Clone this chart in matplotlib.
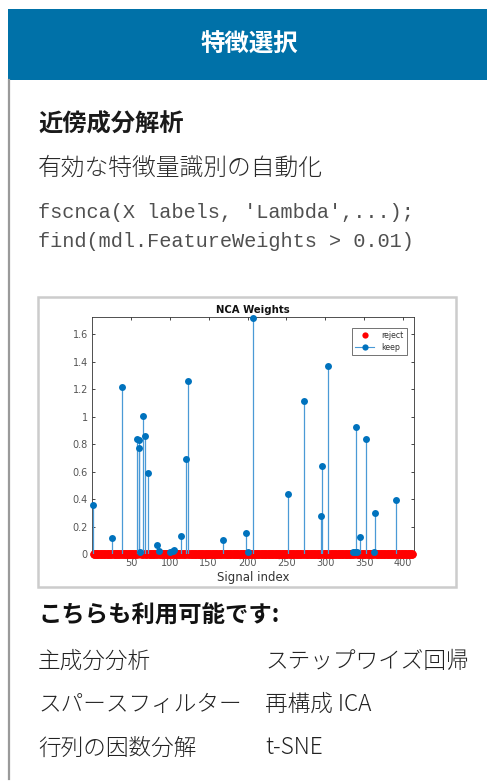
import matplotlib
matplotlib.use("Agg")
import matplotlib.pyplot as plt
from matplotlib.patches import Rectangle
from matplotlib.lines import Line2D
import numpy as np

# ---------------- data ----------------
header_title = "特徴選択"
section_title = "近傍成分解析"
section_sub = "有効な特徴量識別の自動化"
code_lines = ["fscnca(X labels, 'Lambda',...);",
              "find(mdl.FeatureWeights > 0.01)"]
also_title = "こちらも利用可能です:"
also_left = ["主成分分析", "スパースフィルター", "行列の因数分解"]
also_right = ["ステップワイズ回帰", "再構成 ICA", "t-SNE"]

chart_title = "NCA Weights"
x_label = "Signal index"
n_signals = 412
keep_idx = [1, 26, 38, 58, 60, 61, 62, 65, 68, 72, 83, 86, 100, 104, 106,
            115, 121, 124, 168, 198, 201, 207, 252, 272, 295, 296, 304,
            335, 338, 339, 341, 345, 352, 363, 364, 391]
keep_w = [0.354, 0.116, 1.212, 0.839, 0.827, 0.768, 0.012, 1.001, 0.858,
          0.587, 0.068, 0.022, 0.012, 0.024, 0.029, 0.133, 0.693, 1.260,
          0.104, 0.155, 0.012, 1.721, 0.434, 1.115, 0.279, 0.640, 1.367,
          0.015, 0.015, 0.928, 0.015, 0.126, 0.834, 0.012, 0.300, 0.390]
reject_idx = [i for i in range(1, n_signals + 1) if i not in keep_idx]
reject_w = [0.0] * len(reject_idx)
x_ticks = [50, 100, 150, 200, 250, 300, 350, 400]
y_ticks = [0, 0.2, 0.4, 0.6, 0.8, 1.0, 1.2, 1.4, 1.6]
y_tick_labels = ["0", "0.2", "0.4", "0.6", "0.8", "1", "1.2", "1.4", "1.6"]
legend_labels = ["reject", "keep"]

# ---------------- figure ----------------
W, H = 487, 781
fig = plt.figure(figsize=(W / 100, H / 100), dpi=100)
fig.patch.set_facecolor("white")

def fx(x):
    return x / W

def fy(y):
    return 1 - y / H

jp = ["Noto Sans CJK JP", "DejaVu Sans"]

# header band
fig.patches.append(Rectangle((fx(8), fy(80)), fx(487 - 8), (80 - 9) / H,
                             transform=fig.transFigure, facecolor="#0071a8",
                             edgecolor="none", zorder=0))
# left grey border
fig.lines.append(Line2D([fx(8.5), fx(8.5)], [fy(80), fy(779)],
                        transform=fig.transFigure, color="#9a9a9a", lw=1.6))
fig.text(fx(249), fy(45), header_title, color="white", fontsize=17.6,
         fontweight="bold", family=jp, ha="center", va="center")

fig.text(fx(38), fy(125), section_title, color="#1a1a1a", fontsize=17.5,
         fontweight="bold", family=jp, ha="left", va="center")
fig.text(fx(38), fy(168), section_sub, color="#2a2a2a", fontsize=17.1,
         fontweight="light", family=jp, ha="left", va="center")
for i, line in enumerate(code_lines):
    fig.text(fx(38), fy(213 + 28.5 * i), line, color="#505050", fontsize=14.6,
             family=["Liberation Mono", "DejaVu Sans Mono"], ha="left",
             va="center")

# chart frame
fig.patches.append(Rectangle((fx(37.5), fy(587)), fx(456 - 37.5),
                             (587 - 296.5) / H, transform=fig.transFigure,
                             facecolor="white", edgecolor="#cccccc", lw=1.8,
                             zorder=0))

# bottom list
fig.text(fx(38), fy(616), also_title, color="#111111", fontsize=16.8,
         fontweight="bold", family=jp, ha="left", va="center")
for i, (l, r) in enumerate(zip(also_left, also_right)):
    yy = 661 + 43.5 * i
    fig.text(fx(38), fy(yy), l, color="#222222", fontsize=16.3, family=jp,
             fontweight="light", ha="left", va="center")
    fig.text(fx(265), fy(yy), r, color="#222222", fontsize=16.3, family=jp,
             fontweight="light", ha="left", va="center")

# ---------------- chart ----------------
ax = fig.add_axes([fx(92), fy(554), fx(414 - 92), (554 - 317) / H])
ax.set_zorder(5)
ax.set_facecolor("white")

ax.plot(reject_idx, reject_w, "o", color="#ff0000", markersize=6,
        markeredgewidth=0, label=legend_labels[0], clip_on=False, zorder=3)
ax.vlines(keep_idx, 0, keep_w, color="#4a9ad6", lw=0.9, zorder=3.5)
ax.plot(keep_idx, keep_w, "o", color="#0072BD", markersize=5,
        markeredgewidth=0, zorder=4, clip_on=False)

ax.set_xlim(0, 414)
ax.set_ylim(0, 1.725)
ax.set_xticks(x_ticks)
ax.set_yticks(y_ticks)
ax.set_yticklabels(y_tick_labels)
ax.tick_params(direction="in", length=2.2, width=0.6, colors="#262626",
               labelcolor="#555555", labelsize=7, top=True, right=True,
               pad=3)
for s in ax.spines.values():
    s.set_color("#333333")
    s.set_linewidth(0.6)
ax.set_title(chart_title, fontsize=7.3, fontweight="bold", color="#111111",
             pad=3)
ax.set_xlabel(x_label, fontsize=8.5, color="#333333", labelpad=2)

handles = [Line2D([], [], ls="none", marker="o", color="#ff0000",
                  markersize=4.5, markeredgewidth=0),
           Line2D([], [], ls="-", lw=0.8, color="#4a9ad6", marker="o",
                  markerfacecolor="#0072BD", markeredgewidth=0,
                  markersize=4.5)]
leg = ax.legend(handles, legend_labels, loc="upper right",
                bbox_to_anchor=(1 - 7 / 322, 1 - 11 / 237), fontsize=5.7,
                frameon=True, fancybox=False, borderpad=0.4,
                handlelength=2.4, handletextpad=0.9, labelspacing=0.3,
                borderaxespad=0)
leg.get_frame().set_edgecolor("#333333")
leg.get_frame().set_linewidth(0.6)
for t in leg.get_texts():
    t.set_color("#333333")

fig.savefig("out.png", dpi=100, facecolor="white")
